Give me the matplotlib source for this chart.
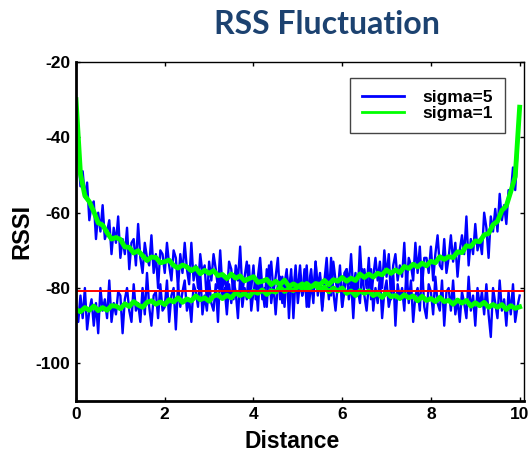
import numpy as np
import matplotlib
matplotlib.use('Agg')
import matplotlib.pyplot as plt
from matplotlib.lines import Line2D

# distance grids (sampling positions)
dist_fine = np.linspace(0, 10, 201)
dist_coarse = np.linspace(0, 10, 101)

# sigma=5, signal from the node at distance 0
blue_left = [-30, -44, -53, -49, -56, -52, -62, -58, -57, -67,
             -60, -65, -58, -67, -65, -62, -71, -64, -68, -61,
             -72, -67, -71, -64, -75, -68, -67, -74, -63, -72,
             -76, -68, -72, -74, -66, -76, -71, -80, -70, -71,
             -76, -68, -74, -78, -70, -72, -80, -71, -76, -68,
             -75, -79, -68, -78, -74, -80, -71, -76, -74, -84,
             -73, -78, -71, -75, -80, -70, -80, -77, -82, -73,
             -75, -83, -74, -78, -69, -81, -77, -73, -81, -80,
             -74, -83, -77, -72, -80, -85, -75, -79, -73, -81,
             -77, -72, -83, -77, -85, -76, -81, -75, -88, -77,
             -80, -74, -82, -80, -74, -85, -78, -84, -73, -82,
             -77, -86, -79, -76, -83, -72, -81, -86, -79, -76,
             -85, -81, -75, -83, -78, -88, -77, -80, -84, -75,
             -82, -86, -79, -75, -86, -80, -84, -77, -88, -81,
             -78, -85, -82, -76, -90, -79, -83, -80, -86, -75,
             -84, -78, -89, -82, -80, -86, -74, -85, -88, -79,
             -81, -87, -77, -84, -86, -78, -90, -81, -80, -86,
             -78, -87, -83, -89, -81, -84, -88, -77, -86, -82,
             -90, -80, -85, -81, -87, -79, -87, -93, -80, -84,
             -88, -78, -86, -83, -90, -81, -87, -79, -89, -85,
             -82]

# sigma=5, signal from the node at distance 10
blue_right = [-85, -89, -82, -88, -80, -91, -86, -83, -90, -84,
              -92, -80, -86, -83, -88, -78, -89, -84, -87, -81,
              -82, -92, -83, -80, -86, -89, -79, -86, -84, -89,
              -80, -87, -76, -85, -90, -82, -81, -88, -79, -86,
              -85, -78, -89, -82, -80, -91, -79, -85, -81, -78,
              -86, -83, -89, -79, -81, -85, -76, -87, -82, -86,
              -78, -84, -86, -79, -89, -76, -82, -80, -87, -79,
              -84, -78, -81, -88, -77, -85, -80, -83, -74, -86,
              -81, -78, -86, -75, -83, -80, -85, -74, -84, -79,
              -87, -79, -77, -84, -79, -75, -88, -77, -81, -74,
              -84, -78, -82, -75, -85, -79, -75, -82, -73, -80,
              -76, -85, -78, -72, -81, -82, -73, -78, -81, -74,
              -85, -76, -75, -79, -71, -81, -76, -82, -69, -79,
              -75, -80, -72, -83, -77, -72, -78, -73, -80, -70,
              -77, -71, -83, -74, -71, -78, -74, -77, -68, -80,
              -72, -74, -78, -68, -76, -69, -80, -72, -72, -76,
              -69, -78, -71, -66, -74, -75, -67, -76, -72, -66,
              -73, -68, -77, -70, -66, -71, -61, -74, -67, -71,
              -63, -70, -67, -71, -60, -64, -72, -61, -65, -59,
              -65, -55, -62, -58, -63, -54, -55, -48, -54, -44,
              -32]

# sigma=1, signal from the node at distance 0
green_left = [-30.0, -49.7, -55.5, -57.1, -59.7, -62.7, -63.3, -65.3, -67.0, -66.6,
              -67.1, -69.1, -69.2, -70.7, -70.1, -71.4, -72.7, -71.8, -71.9, -73.3,
              -73.0, -72.6, -74.0, -74.7, -73.9, -74.4, -75.4, -74.6, -76.2, -75.3,
              -76.1, -75.4, -76.7, -76.4, -77.5, -76.3, -77.4, -76.8, -78.1, -77.5,
              -77.0, -78.5, -78.2, -77.7, -79.1, -78.2, -79.1, -77.9, -79.6, -78.9,
              -79.6, -78.9, -80.4, -79.6, -79.2, -80.5, -79.8, -81.0, -80.0, -80.8,
              -80.0, -81.4, -80.8, -82.0, -80.7, -81.4, -80.8, -82.0, -81.4, -82.5,
              -81.1, -82.3, -82.0, -82.8, -81.8, -82.6, -82.1, -83.4, -82.2, -83.3,
              -82.8, -83.6, -82.5, -83.6, -83.3, -84.3, -83.2, -84.0, -83.3, -84.8,
              -83.9, -84.7, -83.8, -85.1, -84.4, -85.1, -84.4, -85.7, -84.7, -85.4,
              -85.0]

# sigma=1, signal from the node at distance 10
green_right = [-85.7, -86.3, -85.2, -85.9, -84.8, -86.0, -85.2, -85.9, -84.7, -84.8,
               -85.5, -84.2, -84.9, -83.6, -84.5, -85.1, -83.8, -83.4, -84.3, -83.7,
               -84.4, -83.1, -83.7, -82.6, -83.8, -82.9, -83.4, -82.1, -83.1, -82.6,
               -83.5, -82.1, -81.8, -82.8, -81.9, -82.6, -81.2, -82.0, -81.4, -82.3,
               -80.9, -81.4, -80.5, -81.7, -80.7, -81.1, -79.8, -80.9, -80.2, -80.7,
               -79.6, -80.0, -78.8, -79.8, -78.8, -79.1, -78.0, -79.1, -77.8, -78.2,
               -77.2, -78.2, -77.4, -78.0, -76.3, -77.2, -76.3, -77.1, -76.1, -76.5,
               -75.2, -76.1, -75.2, -75.9, -74.3, -74.8, -73.7, -74.4, -73.4, -74.1,
               -72.9, -73.3, -71.7, -72.4, -71.7, -71.9, -70.4, -70.6, -68.8, -69.0,
               -67.5, -67.7, -65.9, -65.5, -63.2, -62.3, -59.4, -58.2, -54.4, -50.4,
               -32.0]

threshold = -80.7

plt.rcParams['font.family'] = ['Liberation Sans', 'DejaVu Sans']
plt.rcParams['font.weight'] = 'bold'
plt.rcParams['axes.unicode_minus'] = False

fig = plt.figure(figsize=(5.29, 4.54), dpi=100)
ax = fig.add_axes([0.1437, 0.1167, 0.847, 0.7467])

ax.plot(dist_fine, blue_left, color='#0000ff', lw=1.7)
ax.plot(dist_fine, blue_right, color='#0000ff', lw=1.7)
ax.plot(dist_coarse, green_left, color='#00ff00', lw=3.5)
ax.plot(dist_coarse, green_right, color='#00ff00', lw=3.5)
ax.axhline(threshold, color='#ff0000', lw=1.4)

ax.set_xlim(0, 10.1)
ax.set_ylim(-110, -20)
ax.set_xticks([0, 2, 4, 6, 8, 10])
ax.set_yticks([-100, -80, -60, -40, -20])
ax.tick_params(direction='in', length=3, width=1, top=True, right=True,
               labelsize=12.5, pad=4)
for lab in ax.get_xticklabels() + ax.get_yticklabels():
    lab.set_fontweight('bold')

ax.spines['left'].set_linewidth(2)
ax.spines['bottom'].set_linewidth(2)
ax.spines['top'].set_linewidth(1)
ax.spines['right'].set_linewidth(1)

ax.set_xlabel('Distance', fontsize=16.5, fontweight='bold', labelpad=0)
ax.xaxis.set_label_coords(0.483, -0.085)
ax.set_ylabel('RSSI', fontsize=17, fontweight='bold', labelpad=2)

handles = [Line2D([], [], color='#0000ff', lw=2), Line2D([], [], color='#00ff00', lw=2)]
leg = ax.legend(handles, ['sigma=5', 'sigma=1'], loc='upper right',
                bbox_to_anchor=(0.958, 0.953), borderaxespad=0,
                fancybox=False, framealpha=1, edgecolor='#444444',
                prop={'size': 12.5, 'weight': 'bold'}, handlelength=2.4,
                handletextpad=1.1, labelspacing=0.05, borderpad=0.7)
leg.get_frame().set_linewidth(1)

fig.text(0.618, 0.945, 'RSS Fluctuation', color='#1C4270', fontsize=23,
         fontweight='bold', family=['Lato', 'DejaVu Sans'], ha='center', va='center')

fig.savefig('out.png', dpi=100)
